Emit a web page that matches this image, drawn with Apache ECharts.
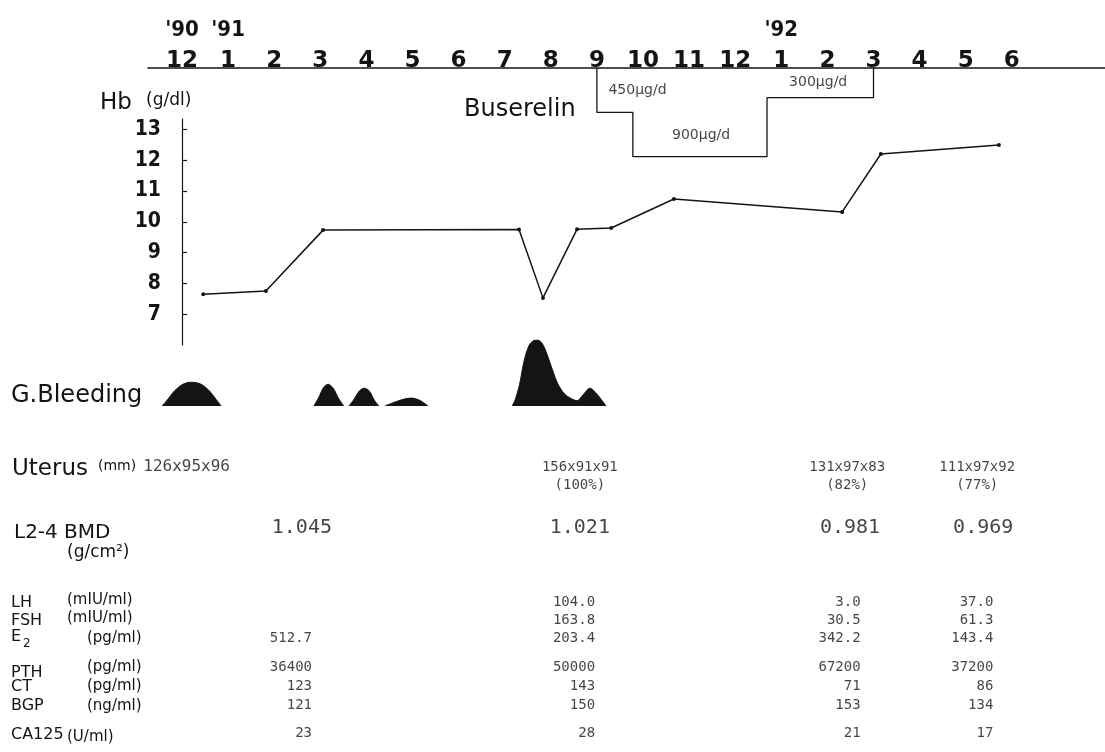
<!DOCTYPE html>
<html>
<head>
<meta charset="utf-8">
<script src="https://cdn.jsdelivr.net/npm/echarts@6/dist/echarts.min.js"></script>
<style>
  html, body { margin: 0; padding: 0; background: #fff; }
  #chart { width: 1105px; height: 752px; }
</style>
</head>
<body>
<div id="chart"></div>
<script>
// ---- time axis: 0 = Dec 1990 ... 18 = Jun 1992 ----
const MONTH_LABELS = ['12','1','2','3','4','5','6','7','8','9','10','11','12','1','2','3','4','5','6'];
const YEAR_MONTHS = [0, 1, 13];
const YEAR_LABELS = ["'90", "'91", "'92"];

// ---- haemoglobin (g/dl) ----
const HB_MONTH = [0.46, 1.82, 3.06, 7.31, 7.83, 8.57, 9.31, 10.67, 14.32, 15.16, 17.72];
const HB_VALUE = [7.65, 7.75, 9.73, 9.75, 7.53, 9.76, 9.80, 10.74, 10.32, 12.20, 12.49];
const HB_TICKS = [7, 8, 9, 10, 11, 12, 13];

// ---- Buserelin dosage (µg/day), stepwise ----
const DOSE_MONTH = [9.0, 9.0, 9.78, 9.78, 12.69, 12.69, 15.0, 15.0];
const DOSE_VALUE = [0, 450, 450, 900, 900, 300, 300, 0];
const DOSE_TEXT = ['450µg/d', '900µg/d', '300µg/d'];
const DOSE_TEXT_MONTH = [9.88, 11.26, 13.8];
const DOSE_TEXT_LEVEL = [450, 900, 300];

// ---- genital bleeding episodes: [month, relative amount] ----
const BLEED_1 = [[-0.43,0],[-0.32,0.9],[-0.16,2.3],[0.02,3.3],[0.2,3.6],[0.4,3.35],[0.58,2.4],[0.74,1.0],[0.85,0]];
const BLEED_2 = [[2.86,0],[2.96,1.2],[3.07,2.8],[3.17,3.3],[3.28,2.7],[3.40,1.1],[3.51,0]];
const BLEED_3 = [[3.62,0],[3.73,1.0],[3.85,2.3],[3.95,2.7],[4.06,2.3],[4.17,0.9],[4.27,0]];
const BLEED_4 = [[4.40,0],[4.58,0.5],[4.82,1.05],[4.98,1.2],[5.16,0.85],[5.34,0]];
const BLEED_5 = [[7.16,0],[7.22,0.8],[7.32,3.2],[7.42,6.8],[7.53,9.2],[7.64,9.95],[7.72,10],
                 [7.82,9.4],[7.92,7.8],[8.03,5.6],[8.15,3.4],[8.30,1.8],[8.45,1.1],[8.57,0.8],
                 [8.70,1.7],[8.85,2.7],[9.00,1.8],[9.20,0]];

// ---- findings table ----
const UTERUS_MONTH = [0.1, 8.63, 14.43, 17.25];
const UTERUS_SIZE = ['126x95x96', '156x91x91', '131x97x83', '111x97x92'];
const UTERUS_PCT = [null, 100, 82, 77];

const BMD_MONTH = [2.6, 8.63, 14.49, 17.38];
const BMD = [1.045, 1.021, 0.981, 0.969];

const LAB_MONTH = [2.82, 8.96, 14.72, 17.6];
const LH = [null, 104.0, 3.0, 37.0];
const FSH = [null, 163.8, 30.5, 61.3];
const E2 = [512.7, 203.4, 342.2, 143.4];
const PTH = [36400, 50000, 67200, 37200];
const CT = [123, 143, 71, 86];
const BGP = [121, 150, 153, 134];
const CA125 = [23, 28, 21, 17];

// ---- layout ----
const W = 1105;
const X0 = 182;            // pixel of month 0
const PX_PER_MONTH = 46.1;
const range = left => ({ min: (left - X0) / PX_PER_MONTH, max: (W - X0) / PX_PER_MONTH });

const INK = '#141414';
const SANS = "'DejaVu Sans', sans-serif";
const COND = "'DejaVu Sans Condensed', 'Liberation Sans Narrow', sans-serif";
const MONO = "'DejaVu Sans Mono', monospace";

const ROW_Y = { uterus: 467, uterusPct: 485, bmd: 528, LH: 602, FSH: 620, E2: 638,
                PTH: 667, CT: 686, BGP: 705, CA125: 733 };

const hidden = { show: false };
function hiddenX(grid, left) {
  const r = range(left);
  return { type: 'value', gridIndex: grid, min: r.min, max: r.max, show: false };
}

const chart = echarts.init(document.getElementById('chart'));

function cellSeries(months, texts, rowY, labelStyle, itemLabels) {
  const data = [];
  texts.forEach((t, i) => {
    if (t == null) return;
    const item = { value: [months[i], rowY], name: String(t) };
    if (itemLabels && itemLabels[i]) item.label = itemLabels[i];
    data.push(item);
  });
  return {
    type: 'scatter', xAxisIndex: 4, yAxisIndex: 3, symbolSize: 0, silent: true,
    data,
    label: Object.assign({
      show: true, position: [0, 0], formatter: '{b}', color: INK,
      fontFamily: MONO, fontSize: 14, align: 'right', verticalAlign: 'middle'
    }, labelStyle || {})
  };
}

function text(x, y, str, size, extra) {
  return { type: 'text', x, y, silent: true,
    style: Object.assign({ text: str, fontSize: size, fontFamily: SANS, fill: INK,
      align: 'left', verticalAlign: 'middle' }, extra || {}) };
}

const rangeTop = range(148);

const option = {
  backgroundColor: '#fff',
  animation: false,
  grid: [
    { left: 148, right: 0, top: 68, height: 98.5 },   // month axis + dosage
    { left: 166, right: 0, top: 119, height: 226 },   // Hb
    { left: 0, right: 0, top: 340, height: 66 },      // bleeding
    { left: 0, right: 0, top: 0, height: 752 }        // findings table
  ],
  xAxis: [
    { type: 'value', gridIndex: 0, position: 'top', min: rangeTop.min, max: rangeTop.max,
      axisLine: { show: true, lineStyle: { color: INK, width: 1.6 } },
      axisTick: hidden, splitLine: hidden,
      axisLabel: { customValues: MONTH_LABELS.map((_, i) => i),
        formatter: v => MONTH_LABELS[Math.round(v)],
        color: INK, fontFamily: SANS, fontWeight: 'bold', fontSize: 23, margin: -5 } },
    { type: 'value', gridIndex: 0, position: 'top', offset: 27, min: rangeTop.min, max: rangeTop.max,
      axisLine: hidden, axisTick: hidden, splitLine: hidden,
      axisLabel: { customValues: YEAR_MONTHS,
        formatter: v => YEAR_LABELS[YEAR_MONTHS.indexOf(Math.round(v))],
        color: INK, fontFamily: COND, fontWeight: 'bold', fontSize: 22, margin: 0 } },
    hiddenX(1, 166),
    hiddenX(2, 0),
    hiddenX(3, 0)
  ],
  yAxis: [
    { type: 'value', gridIndex: 0, inverse: true, min: 0, max: 1000, show: false },
    { type: 'value', gridIndex: 1, min: 6, max: 6 + 226 / 30.8,
      axisLine: { show: true, lineStyle: { color: INK, width: 1.2 } },
      axisTick: { show: true, inside: true, length: 5, customValues: HB_TICKS,
        lineStyle: { color: INK, width: 1.2 } },
      splitLine: hidden,
      axisLabel: { customValues: HB_TICKS, color: INK, fontFamily: COND, fontWeight: 'bold',
        fontSize: 21, margin: 5 } },
    { type: 'value', gridIndex: 2, min: 0, max: 10, show: false },
    { type: 'value', gridIndex: 3, min: 0, max: 752, inverse: true, show: false }
  ],
  series: [
    // dosage steps
    { type: 'line', xAxisIndex: 0, yAxisIndex: 0, symbol: 'none', silent: true,
      data: DOSE_MONTH.map((m, i) => [m, DOSE_VALUE[i]]),
      lineStyle: { color: INK, width: 1.3 } },
    { type: 'scatter', xAxisIndex: 0, yAxisIndex: 0, symbolSize: 0, silent: true,
      data: DOSE_TEXT.map((t, i) => ({ value: [DOSE_TEXT_MONTH[i], DOSE_TEXT_LEVEL[i]], name: t,
        label: { offset: [0, [-22, -21, -15][i]] } })),
      label: { show: true, position: [0, 0], formatter: '{b}', align: 'center', verticalAlign: 'middle',
        color: INK, fontFamily: SANS, fontSize: 14 } },
    // haemoglobin
    { type: 'line', xAxisIndex: 2, yAxisIndex: 1, silent: true,
      data: HB_MONTH.map((m, i) => [m, HB_VALUE[i]]),
      symbol: 'circle', symbolSize: 4, showSymbol: true,
      itemStyle: { color: INK }, lineStyle: { color: INK, width: 1.5 } },
    // bleeding
    ...[BLEED_1, BLEED_2, BLEED_3, BLEED_4, BLEED_5].map(d => ({
      type: 'line', xAxisIndex: 3, yAxisIndex: 2, data: d, smooth: 0.3, symbol: 'none', silent: true,
      lineStyle: { color: INK, width: 1 }, areaStyle: { color: INK, opacity: 1 }
    })),
    // table values
    cellSeries(UTERUS_MONTH, UTERUS_SIZE, ROW_Y.uterus, { align: 'center', fontSize: 14 },
      [{ fontSize: 16 }]),
    cellSeries(UTERUS_MONTH, UTERUS_PCT.map(p => p == null ? null : '(' + p + '%)'), ROW_Y.uterusPct,
      { align: 'center', fontSize: 14 }),
    cellSeries(BMD_MONTH, BMD.map(v => v.toFixed(3)), ROW_Y.bmd, { align: 'center', fontSize: 20 }),
    cellSeries(LAB_MONTH, LH.map(v => v == null ? null : v.toFixed(1)), ROW_Y.LH),
    cellSeries(LAB_MONTH, FSH.map(v => v == null ? null : v.toFixed(1)), ROW_Y.FSH),
    cellSeries(LAB_MONTH, E2.map(v => v.toFixed(1)), ROW_Y.E2),
    cellSeries(LAB_MONTH, PTH, ROW_Y.PTH),
    cellSeries(LAB_MONTH, CT, ROW_Y.CT),
    cellSeries(LAB_MONTH, BGP, ROW_Y.BGP),
    cellSeries(LAB_MONTH, CA125, ROW_Y.CA125)
  ],
  graphic: [
    text(100, 103, 'Hb', 23),
    text(146, 101, '(g/dl)', 17),
    text(464, 110, 'Buserelin', 24),
    text(11, 396, 'G.Bleeding', 24),
    text(12, 469, 'Uterus', 23),
    text(98, 466, '(mm)', 14),
    text(14, 533, 'L2-4', 20),
    text(64, 533, 'BMD', 20),
    text(67, 553, '(g/cm²)', 17),
    text(11, 603, 'LH', 16),
    text(67, 600, '(mIU/ml)', 15),
    text(11, 621, 'FSH', 16),
    text(67, 618, '(mIU/ml)', 15),
    text(11, 637, 'E', 16),
    text(23, 644, '2', 12),
    text(87, 638, '(pg/ml)', 15),
    text(11, 673, 'PTH', 16),
    text(87, 667, '(pg/ml)', 15),
    text(11, 687, 'CT', 16),
    text(87, 686, '(pg/ml)', 15),
    text(11, 706, 'BGP', 16),
    text(87, 706, '(ng/ml)', 15),
    text(11, 735, 'CA125', 16),
    text(67, 737, '(U/ml)', 15)
  ]
};

chart.setOption(option);
</script>
</body>
</html>
